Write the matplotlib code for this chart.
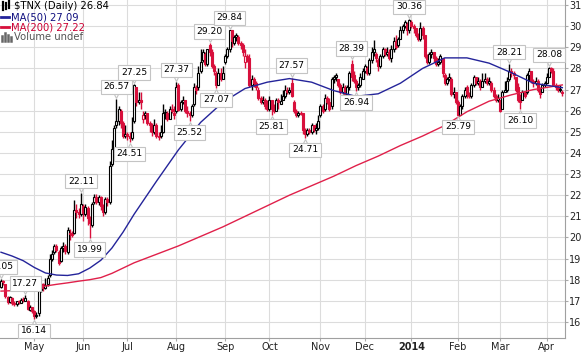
import matplotlib
matplotlib.use("Agg")
import matplotlib.pyplot as plt
import matplotlib.transforms as mtransforms
from matplotlib.lines import Line2D
import pandas as pd

W, H = 583, 353

# trading calendar (TNX daily, Apr 2013 - Apr 2014)
holidays = ["2013-05-27", "2013-07-04", "2013-09-02", "2013-11-28",
            "2013-12-25", "2014-01-01", "2014-01-20", "2014-02-17"]
dates = pd.bdate_range("2013-04-10", "2014-04-10", freq="C", holidays=holidays)

# daily bars
opens = [
    17.65, 17.95, 17.80, 17.20, 16.95, 17.15, 16.90, 16.85, 16.95, 16.90, 17.05, 17.00, 17.00, 16.55, 16.70,  # Apr
    16.50, 16.30, 16.40, 17.50, 17.80, 17.60, 17.80, 18.20, 19.00, 19.30, 19.60, 19.30, 18.90, 19.50, 19.60,
    19.30, 20.20, 20.20, 20.20, 21.30, 21.20, 21.10,  # May
    21.50, 21.10, 21.40, 20.90, 20.60, 21.70, 21.90, 21.70, 21.90, 21.50, 21.20, 21.80, 21.70, 23.50, 24.20,
    25.30, 25.50, 26.00, 25.40, 24.80,  # Jun
    24.90, 24.80, 24.70, 25.50, 27.10, 26.40, 26.50, 25.60, 25.80, 25.90, 25.40, 25.30, 25.00, 25.30, 24.80,
    24.80, 25.00, 25.90, 25.90, 25.60, 26.10, 25.90,  # Jul
    26.00, 27.20, 26.10, 26.40, 26.50, 26.00, 25.90, 25.80, 26.30, 27.10, 27.10, 27.90, 28.40, 28.70, 28.20,
    29.10, 28.80, 28.10, 27.80, 27.20, 27.80, 27.50,  # Aug
    28.30, 28.60, 28.90, 29.80, 29.20, 29.50, 29.50, 29.20, 29.10, 28.30, 28.60, 28.50, 27.20, 27.50, 27.30,
    27.00, 26.60, 26.40, 26.50, 26.20,  # Sep
    26.10, 26.50, 26.10, 26.00, 26.50, 26.30, 26.50, 26.70, 27.00, 26.90, 27.30, 26.40, 26.00, 25.80, 25.90,
    25.90, 25.10, 24.90, 25.10, 25.00, 25.30, 25.10, 25.20,  # Oct
    25.80, 26.20, 26.10, 26.60, 26.40, 26.20, 27.50, 27.60, 27.50, 27.20, 26.90, 27.10, 26.80, 27.10, 28.20,
    27.70, 27.40, 27.10, 27.20, 27.50,  # Nov
    27.90, 28.00, 27.80, 28.40, 28.80, 28.70, 28.40, 28.10, 28.60, 28.90, 28.70, 28.80, 28.50, 28.90, 29.30,
    29.10, 29.40, 29.80, 30.00, 30.10, 29.80,  # Dec
    30.20, 30.00, 29.90, 29.60, 29.40, 29.90, 29.60, 28.60, 28.30, 28.70, 28.80, 28.50, 28.20, 28.30, 28.50,
    27.70, 27.30, 27.50, 27.50, 26.80, 26.90,  # Jan
    26.40, 25.80, 26.20, 26.70, 27.10, 26.80, 26.70, 27.20, 27.60, 27.30, 27.40, 27.10, 27.40, 27.50, 27.30,
    27.30, 27.00, 26.70, 26.50,  # Feb
    26.50, 26.10, 26.90, 27.00, 27.50, 27.90, 27.80, 27.60, 27.10, 26.50, 26.50, 26.90, 26.90, 27.70, 27.90,
    27.40, 27.30, 27.40, 27.00, 26.90, 27.20,  # Mar
    27.30, 27.60, 28.00, 27.90, 27.20, 27.10, 27.00, 26.90,  # Apr
]
highs = [
    18.05, 18.00, 17.80, 17.25, 17.22, 17.20, 17.00, 17.00, 17.05, 17.15, 17.20, 17.27, 17.02, 16.80, 16.72,
    16.55, 16.45, 17.55, 17.85, 17.85, 18.10, 18.20, 19.20, 19.40, 19.70, 19.70, 19.40, 19.60, 19.80, 19.70,
    20.50, 20.40, 20.30, 21.75, 21.60, 21.40, 22.11,
    21.60, 21.60, 21.50, 21.00, 21.70, 22.05, 22.05, 22.00, 21.95, 21.60, 21.90, 21.90, 23.60, 24.60, 25.30,
    26.57, 26.20, 26.10, 25.50, 25.30,
    25.00, 25.00, 25.70, 27.25, 27.10, 26.90, 26.90, 26.00, 26.00, 25.90, 25.50, 25.40, 25.60, 25.40, 25.00,
    25.30, 26.30, 26.10, 26.00, 26.20, 26.30, 26.20,
    27.37, 27.30, 26.50, 26.70, 26.50, 26.20, 26.00, 26.30, 27.30, 27.20, 28.10, 28.90, 28.90, 28.80, 28.90,
    29.20, 28.90, 28.20, 27.90, 28.00, 28.00, 28.10,
    28.70, 29.00, 29.84, 29.80, 29.60, 29.70, 29.60, 29.30, 29.20, 28.90, 28.70, 28.70, 27.70, 27.60, 27.40,
    27.10, 26.70, 26.70, 26.60, 26.50,
    26.70, 26.50, 26.30, 26.60, 26.60, 26.80, 27.00, 27.20, 27.10, 27.10, 27.57, 26.50, 26.10, 26.00, 26.00,
    25.90, 25.20, 25.20, 25.20, 25.40, 25.30, 25.40, 25.80,
    26.30, 26.30, 26.80, 26.70, 26.60, 27.60, 27.70, 27.80, 27.50, 27.30, 27.30, 27.20, 27.20, 27.90, 28.39,
    27.90, 27.50, 27.30, 27.80, 28.00,
    28.20, 28.10, 28.50, 29.00, 29.35, 28.80, 28.50, 28.70, 29.00, 28.95, 29.00, 28.90, 29.10, 29.50, 29.60,
    29.50, 30.00, 30.10, 30.30, 30.20, 30.36,
    30.30, 30.10, 29.90, 29.70, 30.20, 30.00, 29.60, 28.70, 28.80, 28.90, 28.80, 28.60, 28.50, 28.70, 28.50,
    27.80, 27.60, 27.80, 27.60, 27.10, 26.90,
    26.50, 26.30, 26.80, 27.10, 27.20, 26.90, 27.30, 27.70, 27.60, 27.60, 27.50, 27.80, 27.80, 27.60, 27.60,
    27.40, 27.10, 26.80, 26.80,
    26.50, 27.00, 27.40, 27.60, 28.21, 28.00, 27.90, 27.60, 27.30, 26.80, 27.00, 26.90, 27.80, 28.00, 27.90,
    27.50, 27.60, 27.50, 27.10, 27.30, 27.40,
    27.80, 28.08, 28.05, 28.00, 27.30, 27.20, 27.20, 27.00,
]
lows = [
    17.60, 17.75, 17.15, 16.85, 16.90, 16.80, 16.75, 16.75, 16.85, 16.88, 16.95, 16.98, 16.55, 16.50, 16.40,
    16.14, 16.20, 16.30, 17.40, 17.45, 17.55, 17.70, 18.15, 18.90, 19.20, 19.30, 18.70, 18.85, 19.30, 19.20,
    19.20, 19.90, 20.00, 20.15, 20.90, 20.90, 21.00,
    20.80, 21.00, 20.60, 19.99, 20.50, 21.60, 21.60, 21.55, 21.30, 21.00, 21.10, 21.50, 21.60, 23.40, 24.00,
    25.20, 25.30, 25.20, 24.70, 24.70,
    24.60, 24.51, 24.60, 25.40, 26.20, 26.30, 26.10, 25.40, 25.60, 25.30, 25.00, 24.80, 24.90, 24.70, 24.60,
    24.70, 24.95, 25.60, 25.50, 25.60, 25.90, 25.60,
    25.90, 26.00, 26.00, 26.30, 25.90, 25.70, 25.52, 25.70, 26.20, 26.80, 27.00, 27.80, 28.30, 28.10, 28.10,
    28.60, 28.00, 27.70, 27.07, 27.20, 27.40, 27.50,
    28.20, 28.50, 28.80, 29.00, 29.10, 29.30, 29.10, 28.90, 28.60, 28.00, 28.30, 27.10, 27.00, 27.10, 27.00,
    26.50, 26.30, 26.30, 26.10, 26.00,
    26.00, 25.81, 25.90, 26.00, 26.10, 26.30, 26.50, 26.60, 26.80, 26.80, 26.65, 25.90, 25.70, 25.70, 25.80,
    24.90, 24.71, 24.80, 24.90, 24.90, 25.00, 24.90, 25.10,
    25.70, 25.90, 26.00, 26.30, 26.00, 26.10, 27.30, 27.40, 27.10, 26.80, 26.80, 26.70, 26.75, 27.00, 27.40,
    27.30, 26.94, 27.00, 27.10, 27.50,
    27.80, 27.70, 27.70, 28.25, 28.60, 28.30, 27.90, 28.00, 28.50, 28.60, 28.60, 28.40, 28.30, 28.80, 28.90,
    29.00, 29.40, 29.70, 29.90, 29.60, 29.70,
    29.90, 29.70, 29.50, 29.30, 29.30, 29.40, 28.50, 28.20, 28.20, 28.50, 28.30, 28.10, 28.10, 28.20, 27.60,
    27.20, 27.20, 27.40, 26.70, 26.60, 26.30,
    25.79, 25.80, 26.10, 26.60, 26.60, 26.60, 26.60, 27.10, 27.20, 27.20, 27.00, 27.10, 27.30, 27.20, 27.20,
    26.90, 26.60, 26.40, 26.40,
    25.95, 26.10, 26.90, 26.90, 27.40, 27.60, 27.50, 26.90, 26.40, 26.10, 26.50, 26.60, 26.80, 27.40, 27.30,
    27.10, 27.20, 26.90, 26.60, 26.90, 27.10,
    27.30, 27.60, 27.80, 27.20, 27.00, 26.90, 26.90, 26.70,
]
closes = [
    17.95, 17.88, 17.22, 16.93, 17.20, 16.90, 16.85, 16.98, 16.95, 17.05, 17.02, 17.12, 16.60, 16.72, 16.50,
    16.28, 16.35, 17.45, 17.80, 17.60, 17.75, 18.10, 19.00, 19.20, 19.60, 19.40, 18.80, 19.50, 19.60, 19.35,
    20.35, 20.15, 20.10, 21.30, 21.20, 21.10, 21.60,
    21.15, 21.45, 20.90, 20.70, 21.60, 21.90, 21.70, 21.90, 21.50, 21.20, 21.80, 21.70, 23.40, 24.20, 25.20,
    25.50, 26.10, 25.40, 24.80, 24.90,
    24.80, 24.70, 25.00, 27.20, 26.40, 26.50, 26.40, 25.80, 25.90, 25.40, 25.30, 25.00, 25.30, 24.80, 24.75,
    25.00, 25.90, 25.95, 25.60, 26.10, 26.00, 25.80,
    27.10, 26.05, 26.40, 26.50, 26.00, 25.90, 25.80, 26.20, 27.10, 27.00, 27.80, 28.30, 28.80, 28.20, 28.90,
    28.80, 28.10, 27.90, 27.20, 27.80, 27.50, 27.80,
    28.60, 28.90, 29.80, 29.30, 29.50, 29.60, 29.20, 29.10, 28.80, 28.60, 28.40, 27.20, 27.50, 27.30, 27.10,
    26.60, 26.40, 26.50, 26.20, 26.10,
    26.50, 26.10, 26.00, 26.50, 26.40, 26.45, 26.70, 27.00, 26.90, 27.00, 26.70, 26.00, 25.80, 25.90, 25.85,
    25.10, 24.90, 25.10, 25.00, 25.30, 25.10, 25.20, 25.50,
    26.20, 26.00, 26.60, 26.40, 26.10, 27.50, 27.60, 27.70, 27.20, 26.90, 27.10, 26.80, 27.10, 27.80, 27.60,
    27.40, 27.10, 27.20, 27.60, 27.90,
    28.10, 27.80, 28.40, 28.80, 28.90, 28.50, 28.10, 28.60, 28.90, 28.70, 28.80, 28.50, 28.90, 29.30, 29.00,
    29.40, 29.80, 30.00, 30.20, 29.80, 30.30,
    30.00, 29.90, 29.60, 29.40, 29.90, 29.60, 28.60, 28.30, 28.70, 28.80, 28.50, 28.20, 28.30, 28.60, 27.80,
    27.30, 27.50, 27.60, 26.80, 26.90, 26.40,
    25.80, 26.20, 26.70, 27.00, 26.80, 26.70, 27.20, 27.60, 27.30, 27.40, 27.10, 27.40, 27.50, 27.30, 27.40,
    27.00, 26.70, 26.50, 26.60,
    26.00, 26.90, 27.00, 27.40, 27.90, 27.80, 27.70, 27.00, 26.50, 26.40, 26.90, 26.70, 27.70, 27.90, 27.40,
    27.30, 27.40, 27.00, 26.80, 27.20, 27.30,
    27.60, 28.00, 27.90, 27.20, 27.10, 27.00, 27.05, 26.84,
]

# moving averages at sample bars
ma_idx = [0, 5, 10, 15, 20, 25, 30, 35, 40, 45, 50, 55, 60, 70, 80, 90, 100, 110, 120, 130,
          140, 150, 160, 170, 180, 190, 200, 210, 220, 230, 240, 253]
ma50 = [19.30, 19.12, 18.90, 18.58, 18.32, 18.22, 18.20, 18.28, 18.55, 18.92, 19.50, 20.25,
        21.10, 22.65, 24.15, 25.45, 26.40, 27.05, 27.35, 27.52, 27.35, 26.95, 26.68, 26.80,
        27.30, 28.00, 28.50, 28.50, 28.25, 27.80, 27.30, 27.09]
ma200 = [17.46, 17.48, 17.53, 17.60, 17.70, 17.78, 17.85, 17.93, 18.00, 18.10, 18.30, 18.55,
         18.80, 19.20, 19.60, 20.05, 20.50, 21.00, 21.50, 22.00, 22.45, 22.90, 23.40, 23.85,
         24.35, 24.80, 25.30, 25.95, 26.45, 26.75, 27.00, 27.22]

# swing high / low callouts (bar index)
label_hi = [0, 11, 36, 52, 60, 79, 94, 103, 131, 158, 184, 229, 247]
label_lo = [15, 40, 58, 85, 97, 122, 137, 160, 206, 234]

RED = "#d8103c"
BLUE = "#24249a"
GRID = "#dcdcdc"

fig = plt.figure(figsize=(W / 100, H / 100), dpi=100)
ax = fig.add_axes([0, 15 / H, 565 / W, 338 / H])
ax.set_xlim(-0.45, 254.2)
ax.set_ylim(15.24, 31.24)

# candles
for i in range(len(closes)):
    o, h, l, c = opens[i], highs[i], lows[i], closes[i]
    prev = closes[i - 1] if i > 0 else o
    col = "black" if c >= prev else RED
    ax.vlines(i, l, h, color=col, lw=1.0, zorder=3)
    body = max(abs(c - o), 0.05)
    face = "white" if c > o else col
    ax.bar(i, body, bottom=min(o, c), width=0.9, facecolor=face,
           edgecolor=col, linewidth=0.8, zorder=4)

ax.plot(ma_idx, ma200, color="#e0204a", lw=1.0, zorder=5)
ax.plot(ma_idx, ma50, color=BLUE, lw=1.0, zorder=5)

# callouts
box = dict(boxstyle="square,pad=0.3", fc="white", ec="#c4c4c4", lw=0.8)
for idx_list, up in ((label_hi, True), (label_lo, False)):
    for i in idx_list:
        v = highs[i] if up else lows[i]
        sign = 1 if up else -1
        tr = mtransforms.offset_copy(ax.transData, fig=fig, x=0, y=sign * 5, units="dots")
        ax.plot(i, v, marker="v" if up else "^", ms=5.5, mfc="white", mec="#c4c4c4",
                mew=0.8, transform=tr, zorder=6, clip_on=False)
        ax.annotate(f"{v:.2f}", xy=(i, v), xytext=(0, sign * 8.5), textcoords="offset points",
                    ha="center", va="center", fontsize=6.6, bbox=box, zorder=7)

# axes styling
month_starts = [i for i in range(1, len(dates)) if dates[i].month != dates[i - 1].month]
ax.set_xticks(month_starts)
ax.set_xticklabels([d.strftime("%Y") if d.month == 1 else d.strftime("%b")
                    for d in dates[month_starts]])
for t, i in zip(ax.get_xticklabels(), month_starts):
    if dates[i].month == 1:
        t.set_fontweight("bold")
ax.set_yticks(range(16, 32))
ax.yaxis.tick_right()
ax.tick_params(axis="both", labelsize=7, labelcolor="#222222", color="#aaaaaa",
               length=2, width=0.8, pad=1)
ax.grid(True, color=GRID, lw=0.8, zorder=0)
ax.set_axisbelow(True)
for s in ("top", "left"):
    ax.spines[s].set_visible(False)
for s in ("right", "bottom"):
    ax.spines[s].set_color("#a0a0a0")
    ax.spines[s].set_linewidth(0.8)


# legend block top left
def px(x, y):
    return x / W, 1 - y / H


for x, y0, y1 in ((3, 2, 10), (6, 3, 9), (9, 1, 8)):
    fig.add_artist(Line2D([px(x, 0)[0]] * 2, [px(0, y0)[1], px(0, y1)[1]], color="black", lw=1.6))
fig.add_artist(Line2D([px(1, 0)[0], px(9, 0)[0]], [px(0, 17)[1]] * 2, color=BLUE, lw=2))
fig.add_artist(Line2D([px(1, 0)[0], px(9, 0)[0]], [px(0, 27)[1]] * 2, color=RED, lw=2))
for x, y0 in ((2, 36), (5, 33), (8, 35), (11, 37)):
    fig.add_artist(Line2D([px(x, 0)[0]] * 2, [px(0, y0)[1], px(0, 41)[1]], color="#666666", lw=1.8))

fig.text(*px(14, 6), "$TNX (Daily) 26.84", fontsize=7.2, va="center", color="black")
fig.text(*px(11, 17), "MA(50) 27.09", fontsize=7.2, va="center", color="#101080")
fig.text(*px(11, 27), "MA(200) 27.22", fontsize=7.2, va="center", color="#cc0033")
fig.text(*px(14, 37.5), "Volume undef", fontsize=7.2, va="center", color="#555555")

fig.savefig("out.png", dpi=100)
